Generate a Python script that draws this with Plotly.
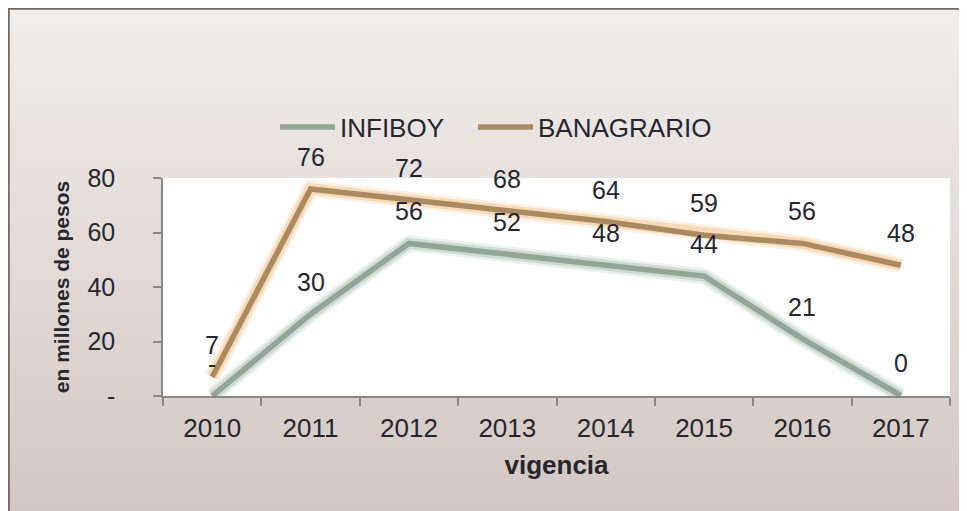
import plotly.graph_objects as go
import numpy as np

# ---- data ----
years = ["2010", "2011", "2012", "2013", "2014", "2015", "2016", "2017"]
infiboy = [0, 30, 56, 52, 48, 44, 21, 0.2]
banagrario = [7, 76, 72, 68, 64, 59, 56, 48]
y_tickvals = [0, 20, 40, 60, 80]
y_ticktext = ["-", "20", "40", "60", "80"]

# ---- layout geometry (figure sits 8px inside the page) ----
W, H = 959, 503
ML, MR, MT, MB = 155, 17, 170, 115
PW, PH = W - ML - MR, H - MT - MB

def px_x(p):
    return (p - ML) / PW

def px_y(p):
    return (H - MB - p) / PH

FONT = "Liberation Sans, Arial, sans-serif"
TXT = "#26262e"
C_INF = "#92a696"
C_BAN = "#ab8a60"

def fmt(v):
    return "-" if v == 0 else str(int(round(v)))

fig = go.Figure()

# glow layers
for vals, glow in ((infiboy, "rgba(150,178,162,%s)"), (banagrario, "rgba(238,178,105,%s)")):
    for w, a in ((16, 0.18), (11, 0.35)):
        fig.add_trace(go.Scatter(x=years, y=vals, mode="lines",
                                 line=dict(color=glow % a, width=w),
                                 showlegend=False, hoverinfo="skip"))

fig.add_trace(go.Scatter(x=years, y=infiboy, mode="lines", name="INFIBOY",
                         line=dict(color=C_INF, width=5.5), legend="legend"))
fig.add_trace(go.Scatter(x=years, y=banagrario, mode="lines", name="BANAGRARIO",
                         line=dict(color=C_BAN, width=5.5), legend="legend2"))

annotations = []
for series in (infiboy, banagrario):
    for i, yv in enumerate(series):
        annotations.append(dict(x=i, y=yv, xref="x", yref="y", text=fmt(yv),
                                showarrow=False, yshift=32,
                                font=dict(family=FONT, size=25, color=TXT)))

# background gradient bands
shapes = []
top_c = np.array([241, 238, 235])
bot_c = np.array([211, 200, 195])
y0p, y1p = 0, 510
n = 60
edges = np.linspace(y0p, y1p, n + 1)
for i in range(n):
    t = i / (n - 1)
    c = (top_c * (1 - t) + bot_c * t).astype(int)
    shapes.append(dict(type="rect", xref="paper", yref="paper",
                       x0=px_x(0), x1=px_x(980),
                       y0=px_y(edges[i + 1] + 0.5), y1=px_y(edges[i]),
                       fillcolor="rgb(%d,%d,%d)" % tuple(c), line=dict(width=0),
                       layer="below"))
# white plot area
shapes.append(dict(type="rect", xref="paper", yref="paper", x0=0, x1=1, y0=0, y1=1,
                   fillcolor="white", line=dict(width=0), layer="below"))
# frame
shapes.append(dict(type="rect", xref="paper", yref="paper",
                   x0=px_x(0.5), x1=px_x(990), y0=px_y(530), y1=px_y(0.5),
                   fillcolor="rgba(0,0,0,0)", line=dict(color="#76665d", width=2.5),
                   layer="above"))

leg_common = dict(orientation="h", yanchor="middle", y=px_y(119), xanchor="left",
                  font=dict(family=FONT, size=26, color=TXT), bgcolor="rgba(0,0,0,0)",
                  itemwidth=55)

fig.update_layout(
    width=W, height=H,
    margin=dict(l=ML, r=MR, t=MT, b=MB),
    paper_bgcolor="white",
    plot_bgcolor="rgba(0,0,0,0)",
    shapes=shapes,
    annotations=annotations,
    showlegend=True,
    legend=dict(x=px_x(267), **leg_common),
    legend2=dict(x=px_x(465), **leg_common),
    xaxis=dict(type="category", range=[-0.5, 7.5], tickson="boundaries",
               ticks="outside", ticklen=8, tickcolor="#888888", tickwidth=1.5,
               showline=True, linecolor="#888888", linewidth=1.5,
               showgrid=False, zeroline=False, ticklabelstandoff=8,
               tickfont=dict(family=FONT, size=26, color=TXT),
               title=dict(text="<b>vigencia</b>", font=dict(family=FONT, size=26, color=TXT), standoff=14)),
    yaxis=dict(range=[0, 80], tickvals=y_tickvals, ticktext=y_ticktext,
               ticks="outside", ticklen=8, tickcolor="#888888", tickwidth=1.5,
               showline=True, linecolor="#888888", linewidth=1.5,
               showgrid=False, zeroline=False, ticklabelstandoff=33,
               tickfont=dict(family=FONT, size=25, color=TXT),
               title=dict(text="<b>en millones de pesos</b>", font=dict(family=FONT, size=21, color=TXT), standoff=12)),
)

fig.write_html("out.html")
